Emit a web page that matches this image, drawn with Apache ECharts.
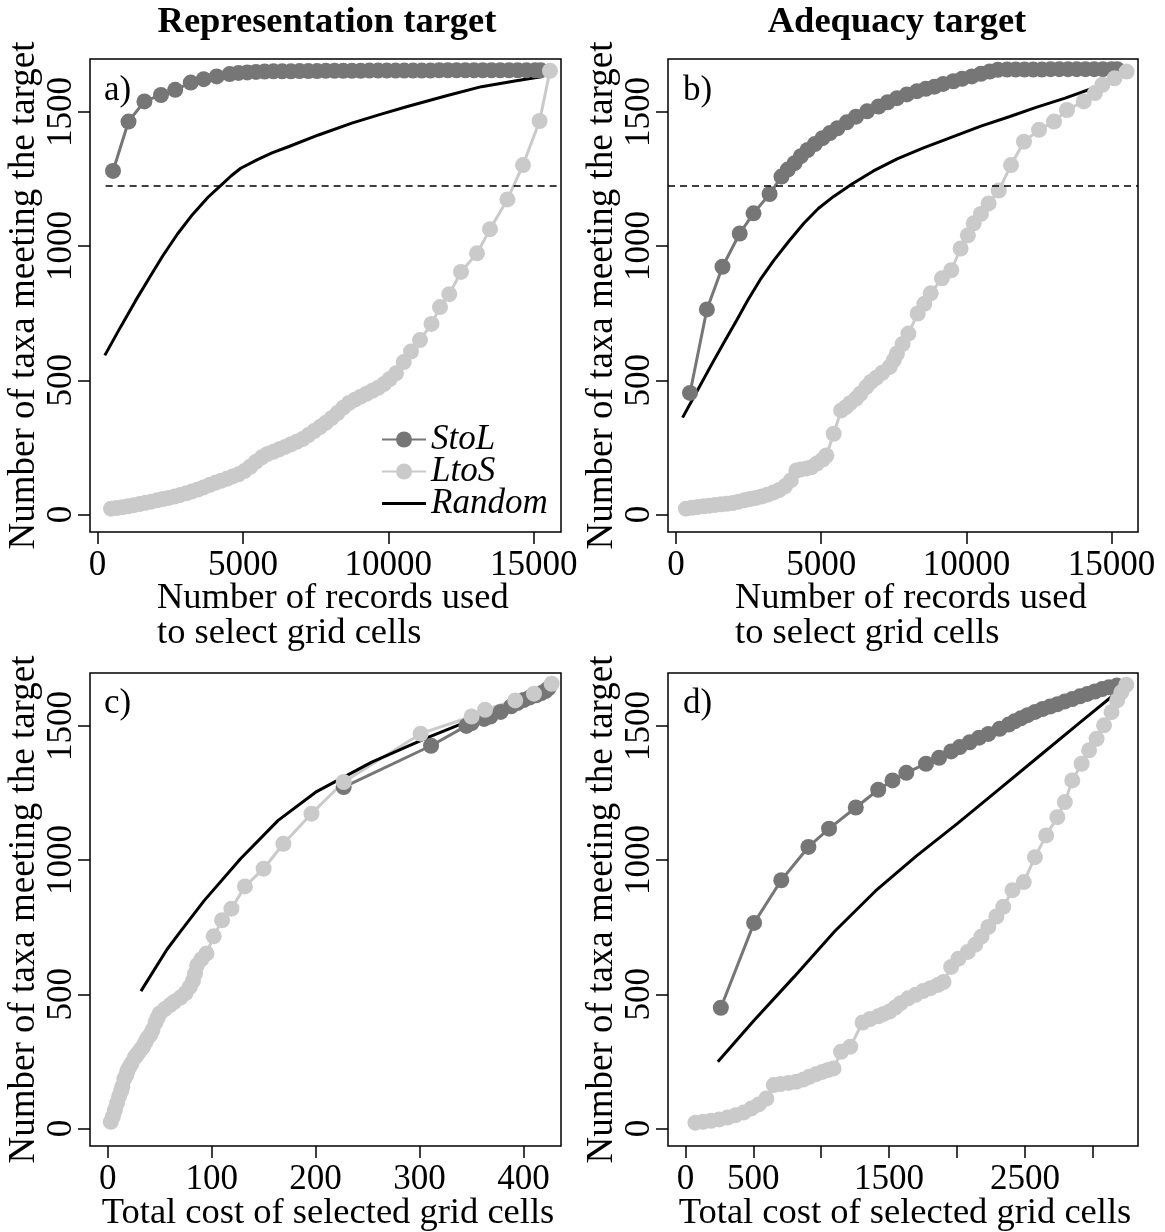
<!DOCTYPE html>
<html><head><meta charset="utf-8">
<script src="https://cdn.jsdelivr.net/npm/echarts@6/dist/echarts.min.js"></script>
<style>html,body{margin:0;padding:0;background:#fff}#chart{width:1165px;height:1232px}</style>
</head><body><div id="chart"></div>
<script>
// ---------- texts ----------
const columnTitles = ['Representation target', 'Adequacy target'];
const panelLabels = ['a)', 'b)', 'c)', 'd)'];
const seriesNames = ['StoL', 'LtoS', 'Random'];
const yTitle = 'Number of taxa meeting the target';
const xTitleRecords = 'Number of records used\nto select grid cells';
const xTitleCost = 'Total cost of selected grid cells';

// ---------- ticks ----------
const yTickValues = [0, 500, 1000, 1500];
const xTicksRecords = [0, 5000, 10000, 15000];
const xTicksCostC = [0, 100, 200, 300, 400];
const xTicksCostD = [0, 500, 1000, 1500, 2000, 2500, 3000];
const xLabelsCostD = [0, 500, 1500, 2500];

// ---------- reference level (dashed) ----------
const targetLevel = 1224;
const targetStartA = 280;

// ---------- panel a: representation target vs records ----------
const aStoL = [[533,1280],[1066,1464],[1614,1539],[2184,1563],[2672,1582],[3206,1609],[3652,1622],[4099,1632],[4543,1641],[4850,1645],[5150,1647],[5450,1649],[5750,1650],[6050,1651],[6350,1651],[6650,1651],[6950,1652],[7250,1652],[7550,1652],[7850,1653],[8150,1653],[8450,1653],[8750,1653],[9050,1653],[9350,1654],[9650,1654],[9950,1654],[10250,1654],[10550,1654],[10850,1654],[11150,1654],[11450,1654],[11750,1655],[12050,1655],[12350,1655],[12650,1655],[12950,1655],[13250,1655],[13550,1655],[13850,1655],[14150,1655],[14450,1655],[14750,1655],[15050,1655],[15240,1655]];
const aLtoS = [[466,22],[650,24],[850,27],[1050,31],[1250,35],[1450,39],[1650,44],[1850,48],[2050,53],[2250,58],[2450,62],[2650,67],[2850,73],[3050,79],[3250,86],[3450,93],[3650,101],[3850,110],[4050,118],[4250,126],[4450,133],[4650,142],[4850,150],[5050,162],[5250,178],[5450,197],[5650,213],[5850,226],[6050,234],[6250,243],[6450,252],[6650,262],[6850,271],[7050,281],[7250,296],[7450,311],[7650,326],[7850,342],[8050,359],[8250,378],[8450,398],[8650,416],[8850,428],[9050,439],[9250,450],[9450,461],[9650,472],[9850,486],[10050,505],[10266,526],[10530,568],[10780,607],[11090,650],[11485,710],[11778,773],[12097,821],[12500,904],[13050,973],[13497,1063],[14096,1174],[14632,1302],[15203,1466],[15560,1653]];
const aRandom = [[251,593],[800,700],[1300,795],[1800,885],[2252,965],[2750,1045],[3270,1118],[3800,1182],[4281,1230],[4600,1262],[4925,1290],[5500,1322],[6000,1347],[6585,1371],[7600,1414],[8745,1458],[9700,1490],[10657,1520],[12000,1560],[13205,1594],[14300,1614],[15306,1632]];

// ---------- panel b: adequacy target vs records ----------
const bStoL = [[482,453],[1064,764],[1601,923],[2194,1047],[2669,1122],[3223,1194],[3633,1259],[3850,1285],[4084,1309],[4300,1335],[4532,1358],[4780,1380],[5045,1402],[5300,1421],[5561,1439],[5880,1461],[6198,1482],[6580,1502],[6973,1520],[7290,1536],[7610,1551],[7950,1565],[8300,1577],[8600,1586],[8902,1594],[9200,1604],[9550,1614],[9850,1623],[10186,1632],[10500,1642],[10800,1650],[11085,1657],[11400,1658],[11700,1658],[12000,1658],[12300,1658],[12600,1658],[12900,1659],[13200,1659],[13500,1659],[13800,1659],[14100,1659],[14400,1659],[14700,1659],[15000,1659],[15190,1659]];
const bLtoS = [[344,22],[550,25],[750,28],[950,31],[1150,33],[1350,36],[1550,38],[1750,40],[1950,43],[2150,48],[2350,53],[2550,58],[2750,62],[2950,67],[3150,74],[3350,82],[3550,91],[3750,105],[3953,127],[4146,164],[4300,168],[4500,172],[4658,176],[4850,190],[5050,205],[5175,220],[5430,301],[5688,388],[5850,400],[6000,415],[6198,432],[6350,450],[6550,475],[6714,494],[6900,510],[7100,528],[7358,550],[7500,575],[7610,600],[7800,635],[8003,674],[8323,749],[8550,785],[8771,824],[9156,880],[9480,910],[9800,991],[10050,1040],[10251,1085],[10500,1120],[10765,1159],[11112,1207],[11536,1302],[11983,1389],[12500,1433],[13016,1464],[13464,1507],[14040,1539],[14425,1570],[14683,1601],[15100,1625],[15516,1650]];
const bRandom = [[227,361],[700,455],[1257,565],[1700,650],[2090,724],[2476,799],[2900,875],[3375,948],[3900,1020],[4404,1085],[4900,1140],[5430,1185],[6074,1232],[6800,1280],[7617,1325],[8500,1365],[9545,1408],[10500,1447],[11474,1482],[12400,1517],[13400,1551],[14400,1590],[15330,1626]];

// ---------- panel c: representation target vs cost ----------
const cStoL = [[227,1272],[311,1426],[345,1500],[350,1510],[362,1526],[368,1535],[378,1552],[388,1573],[394,1585],[400,1596],[406,1606],[412,1614],[417,1622],[421,1630],[424,1640]];
const cLtoS = [[3,25],[5,45],[7,69],[9,95],[11,120],[13,140],[14,155],[16,185],[18,200],[19,215],[21,230],[23,243],[26,265],[28,275],[30,285],[32,295],[34,305],[36,320],[38,335],[41,350],[43,366],[46,395],[48,412],[50,429],[55,445],[60,460],[64,472],[70,488],[75,505],[79,528],[82,550],[84,577],[86,608],[90,630],[95,652],[102,716],[110,776],[119,819],[132,902],[150,968],[169,1061],[196,1173],[227,1291],[301,1471],[350,1535],[363,1560],[392,1595],[410,1620],[427,1657]];
const cRandom = [[32,512],[57,667],[71,739],[93,850],[128,1006],[164,1148],[200,1253],[254,1365],[307,1455],[361,1540],[422,1630]];

// ---------- panel d: adequacy target vs cost ----------
const dStoL = [[261,450],[506,766],[706,925],[906,1049],[1058,1117],[1255,1196],[1420,1262],[1525,1297],[1627,1325],[1772,1359],[1868,1381],[1957,1405],[2020,1421],[2094,1439],[2163,1456],[2231,1470],[2314,1489],[2380,1505],[2424,1517],[2470,1528],[2520,1540],[2575,1552],[2630,1563],[2685,1572],[2740,1581],[2795,1591],[2849,1600],[2905,1610],[2960,1619],[3015,1628],[3069,1637],[3120,1644],[3177,1650]];
const dLtoS = [[74,22],[130,25],[190,29],[250,34],[310,41],[370,50],[430,60],[486,75],[540,90],[596,112],[651,162],[700,166],[760,170],[816,174],[870,183],[912,193],[960,202],[1008,211],[1050,218],[1091,224],[1146,286],[1214,305],[1305,395],[1360,408],[1420,418],[1460,427],[1503,436],[1545,451],[1585,467],[1640,485],[1695,498],[1750,512],[1805,523],[1860,535],[1901,546],[1957,602],[2011,633],[2080,658],[2135,685],[2180,715],[2231,751],[2290,790],[2341,826],[2409,888],[2492,918],[2574,1011],[2657,1092],[2739,1160],[2794,1216],[2849,1297],[2918,1359],[2973,1409],[3028,1452],[3083,1502],[3138,1551],[3179,1595],[3210,1625],[3247,1653]];
const dRandom = [[239,249],[500,400],[800,565],[1100,735],[1400,885],[1700,1015],[2000,1135],[2300,1260],[2600,1385],[2900,1510],[3190,1630]];

// ---------- chart ----------
const FONT = 'Liberation Serif';
const DARK = '#767676', LIGHT = '#cacaca', BLACK = '#000';
const TICK_FS = 35, TITLE_FS = 36.5, YTITLE_FS = 37;
const plain = v => String(v);

const grids = [
  {left: 90, top: 59, width: 471, height: 473},
  {left: 668, top: 59, width: 470, height: 473},
  {left: 90, top: 673, width: 471, height: 473},
  {left: 668, top: 673, width: 470, height: 473}
].map(g => Object.assign(g, {show: true, borderColor: BLACK, borderWidth: 1.5, backgroundColor: 'transparent', containLabel: false}));

const xRanges = [[-258, 15939], [-275, 15909], [-17, 436], [-128, 3333]];
const xTickSets = [xTicksRecords, xTicksRecords, xTicksCostC, xTicksCostD];
const xLabelSets = [xTicksRecords, xTicksRecords, xTicksCostC, xLabelsCostD];

const xAxes = xRanges.map((r, i) => ({
  type: 'value', gridIndex: i, min: r[0], max: r[1],
  axisLine: {show: false, onZero: false},
  axisTick: {show: true, length: 12, inside: false, customValues: xTickSets[i], lineStyle: {color: BLACK, width: 1.5}},
  axisLabel: {show: true, margin: 16, customValues: xLabelSets[i], formatter: plain, fontFamily: FONT, fontSize: TICK_FS, color: BLACK},
  splitLine: {show: false}
}));
const yAxes = [0, 1, 2, 3].map(i => ({
  type: 'value', gridIndex: i, min: -65, max: 1697,
  axisLine: {show: false, onZero: false},
  axisTick: {show: true, length: 12, inside: false, customValues: yTickValues, lineStyle: {color: BLACK, width: 1.5}},
  axisLabel: {show: true, rotate: 90, margin: 11, customValues: yTickValues, formatter: plain, fontFamily: FONT, fontSize: TICK_FS, color: BLACK},
  splitLine: {show: false},
  name: yTitle, nameLocation: 'middle', nameGap: 45, nameRotate: 90,
  nameTextStyle: {fontFamily: FONT, fontSize: YTITLE_FS, color: BLACK}
}));

const panelData = [
  [aStoL, aLtoS, aRandom],
  [bStoL, bLtoS, bRandom],
  [cStoL, cLtoS, cRandom],
  [dStoL, dLtoS, dRandom]
];

const series = [];
panelData.forEach((sets, i) => {
  const pointStyle = (color) => ({
    symbol: 'circle', symbolSize: 16, showSymbol: true, showAllSymbol: true,
    itemStyle: {color: color}, lineStyle: {color: color, width: 3}
  });
  series.push(Object.assign({name: seriesNames[0], type: 'line', xAxisIndex: i, yAxisIndex: i, data: sets[0], silent: true}, pointStyle(DARK)));
  series.push(Object.assign({name: seriesNames[1], type: 'line', xAxisIndex: i, yAxisIndex: i, data: sets[1], silent: true}, pointStyle(LIGHT)));
  const rnd = {name: seriesNames[2], type: 'line', xAxisIndex: i, yAxisIndex: i, data: sets[2], silent: true,
    symbol: 'none', showSymbol: false, itemStyle: {color: BLACK}, lineStyle: {color: BLACK, width: 3}};
  if (i < 2) {
    const xs = i === 0 ? targetStartA : xRanges[i][0];
    rnd.markLine = {
      silent: true, symbol: ['none', 'none'], label: {show: false},
      lineStyle: {color: BLACK, type: [7, 5], width: 1.5},
      data: [[{coord: [xs, targetLevel]}, {coord: [xRanges[i][1], targetLevel]}]]
    };
  }
  series.push(rnd);
});

const txt = (text, x, y, opts) => ({
  type: 'text', x: x, y: y, silent: true,
  style: Object.assign({text: text, fontFamily: FONT, fontSize: TITLE_FS, fill: BLACK, align: 'center', verticalAlign: 'middle'}, opts || {})
});

const graphics = [
  txt(columnTitles[0], 327, 23, {fontWeight: 'bold'}),
  txt(columnTitles[1], 897, 23, {fontWeight: 'bold'}),
  txt(panelLabels[0], 104, 91, {align: 'left', fontSize: TICK_FS}),
  txt(panelLabels[1], 683, 91, {align: 'left', fontSize: TICK_FS}),
  txt(panelLabels[2], 104, 704, {align: 'left', fontSize: TICK_FS}),
  txt(panelLabels[3], 683, 704, {align: 'left', fontSize: TICK_FS}),
  txt(xTitleRecords, 157, 616, {align: 'left', lineHeight: 35}),
  txt(xTitleRecords, 735, 616, {align: 'left', lineHeight: 35}),
  txt(xTitleCost, 328, 1213),
  txt(xTitleCost, 905, 1213)
];

const lineIcon = 'path://M0,0L0,0M0,8.5L44,8.5L44,11.5L0,11.5ZM44,20L44,20';

const chart = echarts.init(document.getElementById('chart'), null, {renderer: 'canvas'});
chart.setOption({
  animation: false,
  backgroundColor: '#fff',
  grid: grids,
  xAxis: xAxes,
  yAxis: yAxes,
  legend: {
    data: [{name: seriesNames[0]}, {name: seriesNames[1]}, {name: seriesNames[2], icon: lineIcon}],
    orient: 'vertical', left: 381, top: 422, padding: 0,
    itemWidth: 44, itemHeight: 20, itemGap: -3, selectedMode: false,
    textStyle: {fontFamily: FONT, fontStyle: 'italic', fontSize: TICK_FS, color: BLACK}
  },
  graphic: graphics,
  series: series
});
</script>
</body></html>
